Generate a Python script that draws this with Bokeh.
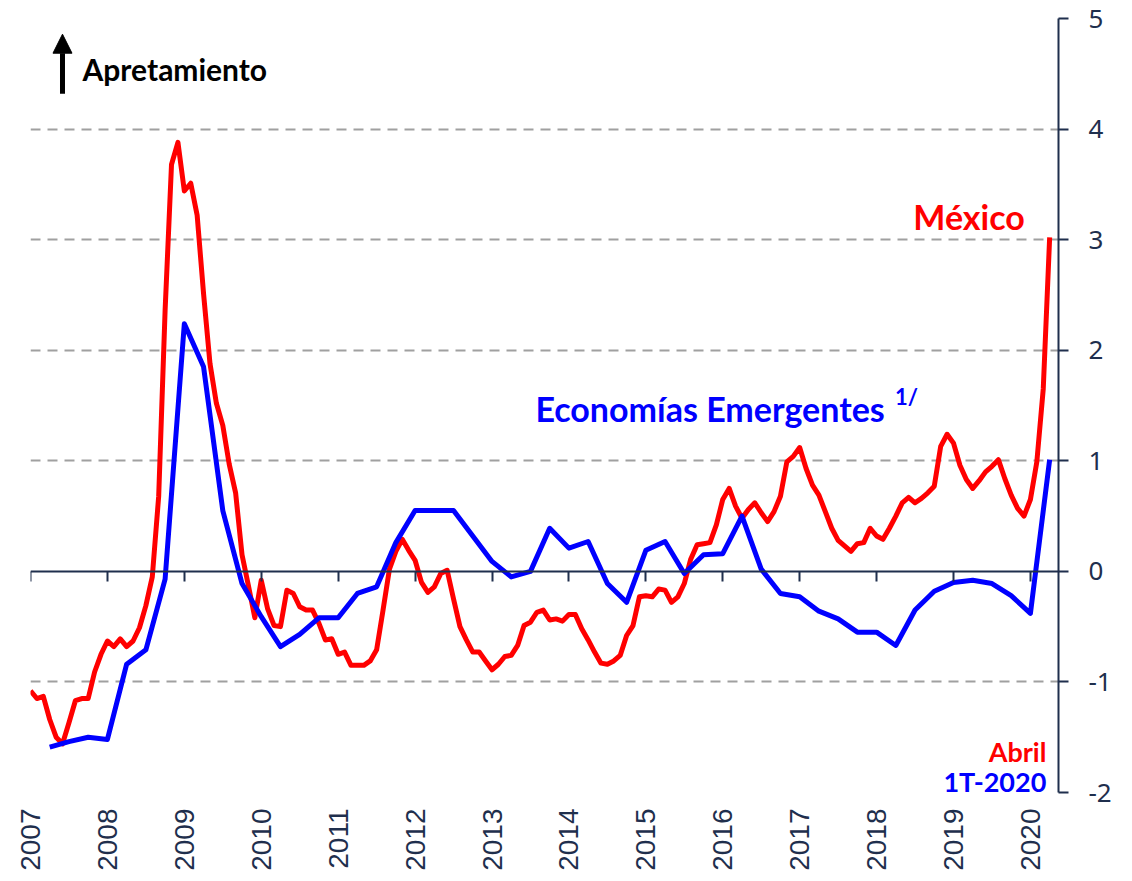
import math
from bokeh.plotting import figure
from bokeh.models import (Range1d, LinearAxis, FixedTicker, Label, Arrow, NormalHead,
                          CustomJSTickFormatter, Grid)
from bokeh.embed import file_html
from bokeh.resources import INLINE

# ---------------- data ----------------
years = list(range(2007, 2021))
year_labels = [str(y) for y in years]
y_ticks = [-2, -1, 0, 1, 2, 3, 4, 5]
y_tick_labels = ["-2", "-1", "0", "1", "2", "3", "4", "5"]
grid_levels = [-2, -1, 1, 2, 3, 4, 5]

# Mexico, monthly, Jan 2007 .. Apr 2020
mexico_start = 2007
mexico = [
    -1.08, -1.15, -1.13, -1.34, -1.50, -1.56, -1.37, -1.17, -1.15, -1.15, -0.91, -0.75,  # 2007
    -0.63, -0.68, -0.61, -0.68, -0.63, -0.51, -0.31, -0.05, 0.68, 2.36, 3.68, 3.88,      # 2008
    3.44, 3.51, 3.22, 2.51, 1.88, 1.52, 1.32, 0.97, 0.71, 0.15, -0.13, -0.42,            # 2009
    -0.08, -0.34, -0.49, -0.50, -0.17, -0.20, -0.32, -0.35, -0.35, -0.47, -0.62, -0.61,  # 2010
    -0.75, -0.73, -0.85, -0.85, -0.85, -0.81, -0.71, -0.35, 0.02, 0.18, 0.29, 0.19,      # 2011
    0.10, -0.10, -0.19, -0.14, -0.02, 0.01, -0.25, -0.50, -0.62, -0.73, -0.73, -0.81,    # 2012
    -0.89, -0.84, -0.77, -0.76, -0.67, -0.49, -0.46, -0.37, -0.35, -0.44, -0.43, -0.45,  # 2013
    -0.39, -0.39, -0.52, -0.62, -0.73, -0.83, -0.84, -0.81, -0.76, -0.58, -0.49, -0.23,  # 2014
    -0.22, -0.23, -0.16, -0.17, -0.28, -0.23, -0.11, 0.11, 0.24, 0.25, 0.26, 0.42,       # 2015
    0.65, 0.75, 0.59, 0.48, 0.56, 0.62, 0.53, 0.45, 0.54, 0.68, 0.99, 1.04,              # 2016
    1.12, 0.93, 0.78, 0.69, 0.54, 0.39, 0.28, 0.23, 0.18, 0.25, 0.26, 0.39,              # 2017
    0.32, 0.29, 0.39, 0.50, 0.62, 0.67, 0.62, 0.66, 0.71, 0.77, 1.13, 1.24,              # 2018
    1.16, 0.96, 0.83, 0.75, 0.82, 0.90, 0.95, 1.01, 0.84, 0.69, 0.57, 0.50,              # 2019
    0.65, 0.99, 1.65, 3.02,                                                              # 2020
]

# Emerging economies, quarterly, 2007Q1 .. 2020Q1
emergentes_start = 2007
emergentes = [
    -1.59, -1.54, -1.50, -1.52,   # 2007
    -0.84, -0.71, -0.07, 2.24,    # 2008
    1.85, 0.55, -0.11, -0.41,     # 2009
    -0.68, -0.57, -0.42, -0.42,   # 2010
    -0.20, -0.14, 0.26, 0.55,     # 2011
    0.55, 0.55, 0.32, 0.09,       # 2012
    -0.05, 0.00, 0.39, 0.21,      # 2013
    0.27, -0.11, -0.28, 0.19,     # 2014
    0.27, -0.02, 0.15, 0.16,      # 2015
    0.50, 0.02, -0.20, -0.23,     # 2016
    -0.36, -0.43, -0.55, -0.55,   # 2017
    -0.67, -0.35, -0.18, -0.10,   # 2018
    -0.08, -0.11, -0.22, -0.38,   # 2019
    1.01,                         # 2020
]

mex_x = [mexico_start + i / 12 for i in range(len(mexico))]
em_x = [emergentes_start + (i + 1) / 4 for i in range(len(emergentes))]

# ---------------- figure ----------------
NAVY = "#1F2F4D"
RED = "#FF0000"
BLUE = "#0000FF"

p = figure(width=1124, height=873,
           x_range=Range1d(2007, 2020.365), y_range=Range1d(-2, 5),
           output_backend="svg", toolbar_location=None,
           x_axis_location=None, y_axis_location=None,
           min_border_left=30, min_border_right=66, min_border_top=18, min_border_bottom=79)
p.outline_line_color = None
p.background_fill_color = "white"
p.border_fill_color = "white"
p.center = []

grid = Grid(dimension=1, ticker=FixedTicker(ticks=grid_levels),
            grid_line_color="#A0A0A0", grid_line_width=2, grid_line_dash="10 7")
p.add_layout(grid)

# axis line at zero with year ticks
zero_axis = LinearAxis(fixed_location=0, ticker=FixedTicker(ticks=years),
                       formatter=CustomJSTickFormatter(code="return ''"),
                       major_label_text_font_size="0px", major_label_standoff=0,
                       major_tick_in=0, major_tick_out=10,
                       minor_tick_line_color=None,
                       axis_line_color=NAVY, axis_line_width=2,
                       major_tick_line_color=NAVY, major_tick_line_width=2)
p.add_layout(zero_axis, "below")

# year labels at the bottom
label_axis = LinearAxis(ticker=FixedTicker(ticks=years),
                        major_label_overrides={y: l for y, l in zip(years, year_labels)},
                        axis_line_color=None, major_tick_line_color=None,
                        minor_tick_line_color=None, major_tick_in=0, major_tick_out=0,
                        major_label_orientation=math.pi / 2,
                        major_label_text_font="Liberation Sans",
                        major_label_text_font_size="28px",
                        major_label_text_color=NAVY, major_label_standoff=16)
p.add_layout(label_axis, "below")

right_axis = LinearAxis(ticker=FixedTicker(ticks=y_ticks),
                        major_label_overrides={t: l for t, l in zip(y_ticks, y_tick_labels)},
                        major_tick_in=0, major_tick_out=10,
                        axis_line_color=NAVY, axis_line_width=2,
                        major_tick_line_color=NAVY, major_tick_line_width=2,
                        minor_tick_line_color=None,
                        major_label_text_font="Noto Sans",
                        major_label_text_font_size="26px",
                        major_label_text_color=NAVY, major_label_standoff=20)
p.add_layout(right_axis, "right")

p.line(mex_x, mexico, line_color=RED, line_width=5, line_join="round")
p.line(em_x, emergentes, line_color=BLUE, line_width=5, line_join="round")

# ---------------- annotations ----------------
p.add_layout(Arrow(end=NormalHead(size=19, fill_color="black", line_color="black"),
                   x_start=2007.416, y_start=4.32, x_end=2007.416, y_end=4.858,
                   line_width=5, line_color="black"))

FONT = "Lato"
p.add_layout(Label(x=2007.676, y=4.544, text="Apretamiento", text_font=FONT,
                   text_font_style="bold", text_font_size="30px", text_color="black",
                   text_baseline="alphabetic"))
p.add_layout(Label(x=2018.478, y=3.211, text="México", text_font=FONT,
                   text_font_style="bold", text_font_size="34px", text_color=RED,
                   text_baseline="alphabetic"))
p.add_layout(Label(x=2013.564, y=1.470, text="Economías Emergentes", text_font=FONT,
                   text_font_style="bold", text_font_size="34px", text_color=BLUE,
                   text_baseline="alphabetic"))
p.add_layout(Label(x=2018.24, y=1.577, text="1/", text_font=FONT,
                   text_font_style="bold", text_font_size="22px", text_color=BLUE,
                   text_baseline="alphabetic"))
p.add_layout(Label(x=2020.207, y=-1.631, text="Abril", text_font=FONT,
                   text_font_style="bold", text_font_size="27px", text_color=RED,
                   text_baseline="alphabetic", text_align="right"))
p.add_layout(Label(x=2020.207, y=-1.900, text="1T-2020", text_font=FONT,
                   text_font_style="bold", text_font_size="27px", text_color=BLUE,
                   text_baseline="alphabetic", text_align="right"))

open("out.html", "w").write(file_html(p, INLINE))
